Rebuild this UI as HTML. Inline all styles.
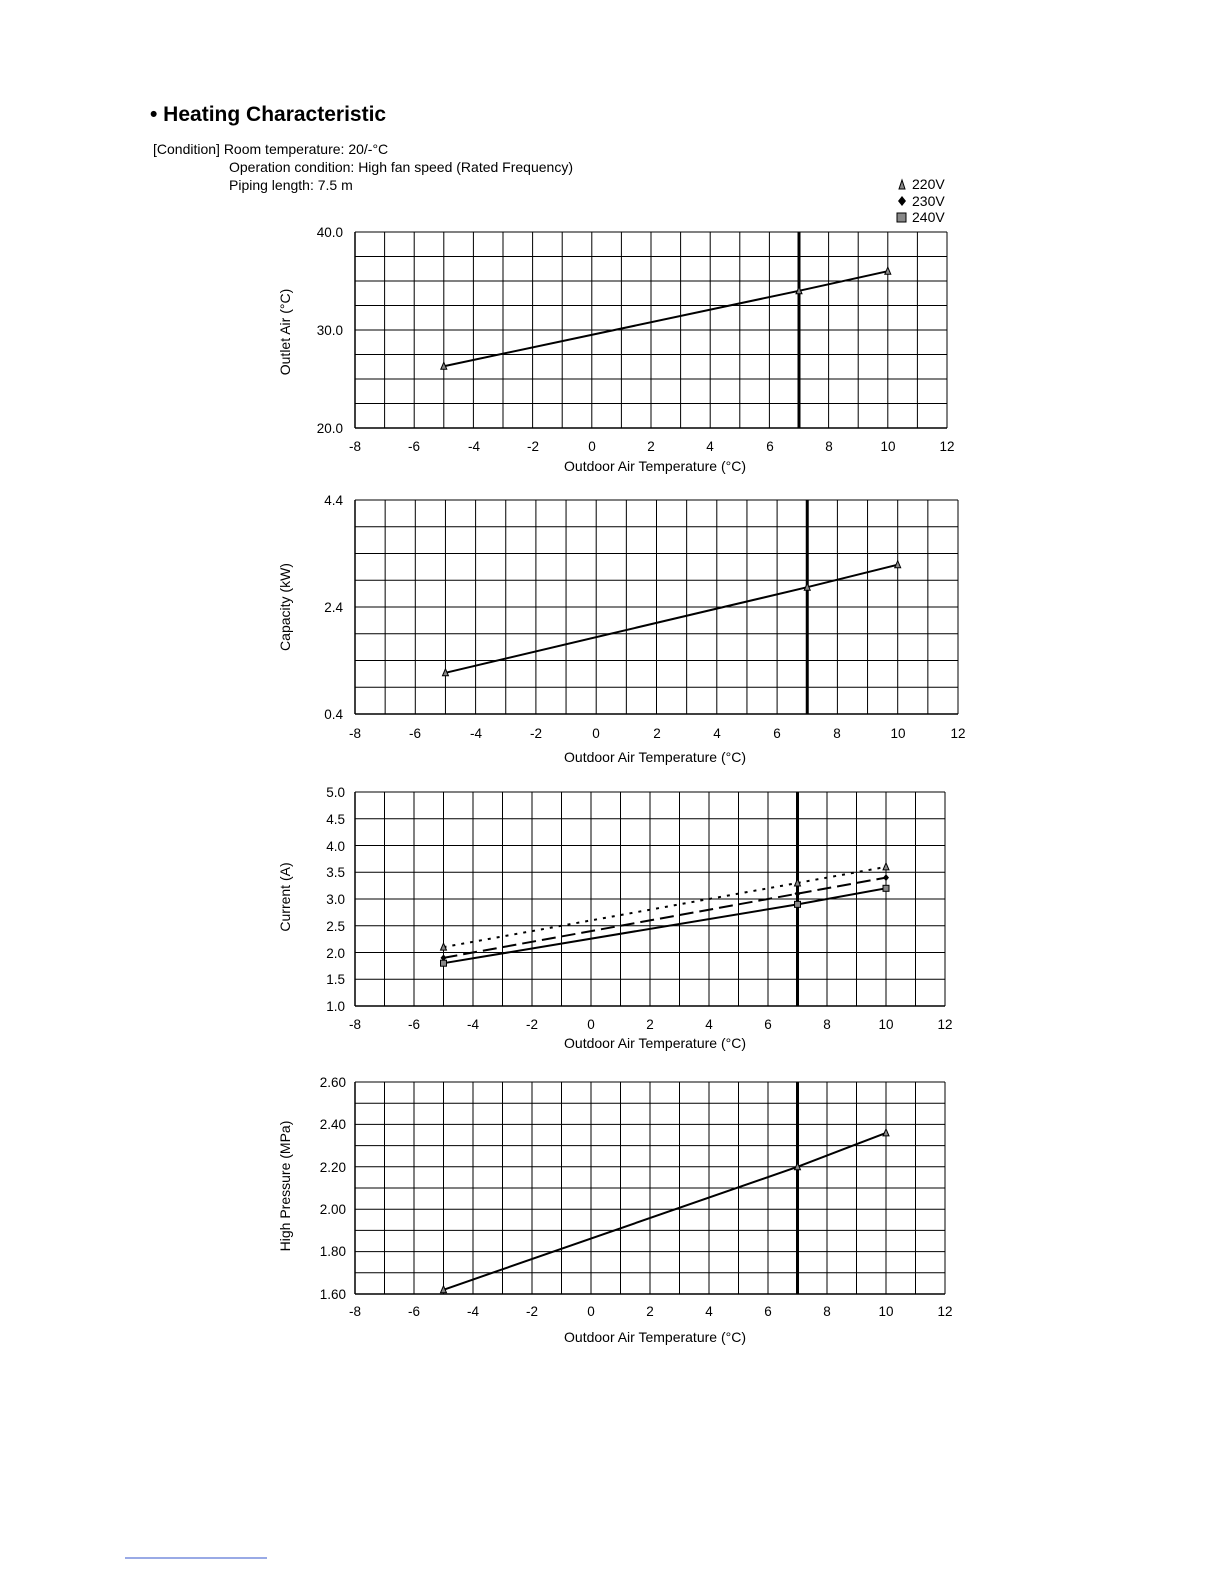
<!DOCTYPE html>
<html><head><meta charset="utf-8"><style>
html,body{margin:0;padding:0;background:#fff;overflow:hidden;width:1224px;height:1584px;}
svg{display:block;font-family:"Liberation Sans",Arial,sans-serif;}
</style></head><body>
<svg id="s" width="1224" height="1584" viewBox="0 0 1224 1584" xmlns="http://www.w3.org/2000/svg">
<text x="150" y="121" font-size="21" font-weight="bold">• Heating Characteristic</text>
<g font-size="14" fill="#000">
<text x="153" y="154">[Condition] Room temperature: 20/-°C</text>
<text x="229" y="172">Operation condition: High fan speed (Rated Frequency)</text>
<text x="229" y="190">Piping length: 7.5 m</text>
<polygon points="899,189 905,189 902,180" fill="#888" stroke="#000" stroke-width="1"/>
<text x="912" y="189">220V</text>
<polygon points="902,196 906,201 902,206 898,201" fill="#000"/>
<text x="912" y="206">230V</text>
<rect x="897" y="213" width="9" height="9" fill="#888" stroke="#000"/>
<text x="912" y="222">240V</text>
</g>
<g id="grids"></g>
<g font-size="13.5" text-anchor="end">
<text x="343" y="237">40.0</text><text x="343" y="335">30.0</text><text x="343" y="433">20.0</text>
<text x="343" y="505">4.4</text><text x="343" y="612">2.4</text><text x="343" y="719">0.4</text>
<text x="345" y="797">5.0</text><text x="345" y="824">4.5</text><text x="345" y="851">4.0</text><text x="345" y="877">3.5</text><text x="345" y="904">3.0</text><text x="345" y="931">2.5</text><text x="345" y="958">2.0</text><text x="345" y="984">1.5</text><text x="345" y="1011">1.0</text>
<text x="346" y="1087">2.60</text><text x="346" y="1129">2.40</text><text x="346" y="1172">2.20</text><text x="346" y="1214">2.00</text><text x="346" y="1256">1.80</text><text x="346" y="1299">1.60</text>
</g>
<g font-size="13.5" text-anchor="middle">
<g transform="translate(0,451)"><text x="355">-8</text><text x="414">-6</text><text x="474">-4</text><text x="533">-2</text><text x="592">0</text><text x="651">2</text><text x="710">4</text><text x="770">6</text><text x="829">8</text><text x="888">10</text><text x="947">12</text></g>
<text x="655" y="471" font-size="14">Outdoor  Air Temperature (°C)</text>
<g transform="translate(0,738)"><text x="355">-8</text><text x="415">-6</text><text x="476">-4</text><text x="536">-2</text><text x="596">0</text><text x="657">2</text><text x="717">4</text><text x="777">6</text><text x="837">8</text><text x="898">10</text><text x="958">12</text></g>
<text x="655" y="762" font-size="14">Outdoor  Air Temperature (°C)</text>
<g transform="translate(0,1029)"><text x="355">-8</text><text x="414">-6</text><text x="473">-4</text><text x="532">-2</text><text x="591">0</text><text x="650">2</text><text x="709">4</text><text x="768">6</text><text x="827">8</text><text x="886">10</text><text x="945">12</text></g>
<text x="655" y="1048" font-size="14">Outdoor  Air Temperature (°C)</text>
<g transform="translate(0,1316)"><text x="355">-8</text><text x="414">-6</text><text x="473">-4</text><text x="532">-2</text><text x="591">0</text><text x="650">2</text><text x="709">4</text><text x="768">6</text><text x="827">8</text><text x="886">10</text><text x="945">12</text></g>
<text x="655" y="1342" font-size="14">Outdoor  Air Temperature (°C)</text>
<text transform="translate(290,332) rotate(-90)" font-size="14">Outlet Air (°C)</text>
<text transform="translate(290,607) rotate(-90)" font-size="14">Capacity (kW)</text>
<text transform="translate(290,897) rotate(-90)" font-size="14">Current (A)</text>
<text transform="translate(290,1186) rotate(-90)" font-size="14">High Pressure (MPa)</text>
</g>
<line x1="125" y1="1558" x2="267" y2="1558" stroke="#3355cc" stroke-width="1"/>
</svg>
<script>
var g=document.getElementById('grids'),NS='http://www.w3.org/2000/svg';
function el(t,a){var e=document.createElementNS(NS,t);for(var k in a)e.setAttribute(k,a[k]);g.appendChild(e);return e;}
function chart(x0,x1,yt,yb,rows,ymin,ymax,series){
 var dx=(x1-x0)/20;
 for(var i=0;i<=20;i++){var x=x0+i*dx;el('line',{x1:x,y1:yt,x2:x,y2:yb,stroke:'#000','stroke-width':i==15?3:(i==0?1.5:1)});}
 for(var j=0;j<=rows;j++){var y=yt+j*(yb-yt)/rows;el('line',{x1:x0,y1:y,x2:x1,y2:y,stroke:'#000','stroke-width':j==rows?1.5:1});}
 function X(v){return x0+(v+8)*dx;} function Y(v){return yb-(v-ymin)/(ymax-ymin)*(yb-yt);}
 series.forEach(function(s){
  var p=s.d.map(function(d){return X(d[0])+','+Y(d[1]);}).join(' ');
  var a={points:p,fill:'none',stroke:'#000','stroke-width':2};
  if(s.dash)a['stroke-dasharray']=s.dash;
  el('polyline',a);
  s.d.forEach(function(d){var x=X(d[0]),y=Y(d[1]);
   if(s.m=='t')el('polygon',{points:(x-3)+','+(y+3)+' '+(x+3)+','+(y+3)+' '+x+','+(y-4),fill:'#888',stroke:'#000','stroke-width':1});
   else if(s.m=='d')el('polygon',{points:x+','+(y-3.5)+' '+(x+3)+','+y+' '+x+','+(y+3.5)+' '+(x-3)+','+y,fill:'#000'});
   else el('rect',{x:x-3,y:y-3,width:6,height:6,fill:'#888',stroke:'#000'});
  });
 });
}
chart(355,947,232,428,8,20,40,[{m:'t',d:[[-5,26.3],[7,34],[10,36]]}]);
chart(355,958,500,714,8,0.4,4.4,[{m:'t',d:[[-5,1.17],[7,2.77],[10,3.19]]}]);
chart(355,945,792,1006,8,1,5,[
 {m:'t',dash:'3,6',d:[[-5,2.1],[7,3.3],[10,3.6]]},
 {m:'d',dash:'14,6',d:[[-5,1.9],[7,3.1],[10,3.4]]},
 {m:'s',d:[[-5,1.8],[7,2.9],[10,3.2]]}]);
chart(355,945,1082,1294,10,1.6,2.6,[{m:'t',d:[[-5,1.62],[7,2.20],[10,2.36]]}]);
</script>
</body></html>
